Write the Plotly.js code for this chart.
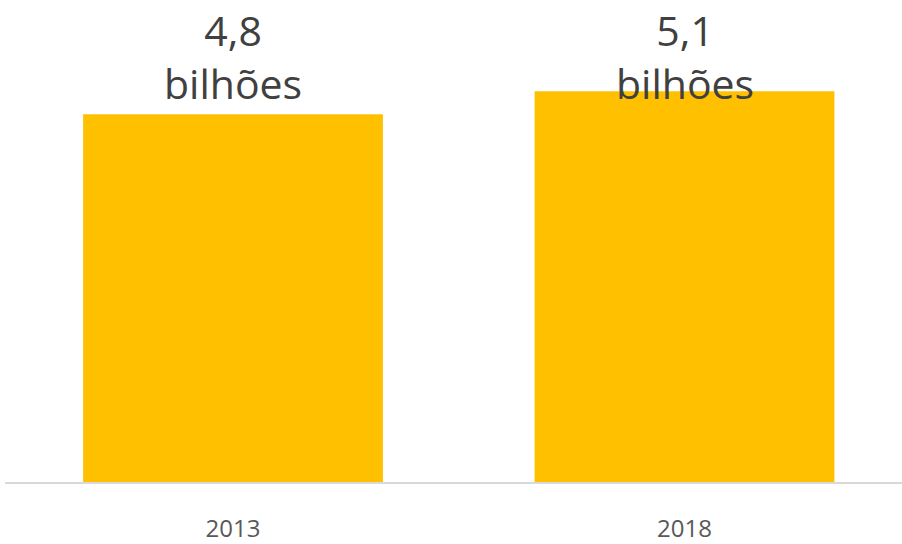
<!DOCTYPE html>
<html>
<head>
<meta charset="utf-8">
<script src="https://cdn.plot.ly/plotly-3.0.1.min.js"></script>
<style>html,body{margin:0;padding:0;background:#fff;}#chart{width:902px;height:544px;}</style>
</head>
<body>
<div id="chart"></div>
<script>
const categories = ["2013", "2018"];
const values = [4.8, 5.1];
const unitLabel = "bilhões";

const barColor = "#FFC000";
const labels = values.map(v => v.toFixed(1).replace(".", ",") + "<br>" + unitLabel);

const trace = {
  type: "bar",
  x: categories,
  y: values,
  marker: {color: barColor},
  width: 0.664,
  hoverinfo: "none"
};

const annotations = categories.map((c, i) => ({
  x: i,
  xref: "x",
  y: 1,
  yref: "paper",
  yanchor: "top",
  xanchor: "center",
  yshift: 0,
  text: labels[i],
  showarrow: false,
  font: {family: "Open Sans, sans-serif", size: 41, color: "#404040"}
}));

const layout = {
  width: 902,
  height: 544,
  margin: {l: 5, r: 0, t: 0, b: 62},
  paper_bgcolor: "#ffffff",
  plot_bgcolor: "rgba(0,0,0,0)",
  showlegend: false,
  xaxis: {
    type: "category",
    range: [-0.505, 1.4817],
    showline: true,
    linecolor: "#d9d9d9",
    linewidth: 2,
    ticks: "",
    ticklabelstandoff: 24,
    tickfont: {family: "Open Sans, sans-serif", size: 24, color: "#595959"},
    fixedrange: true
  },
  yaxis: {
    range: [0, 6.29],
    visible: false,
    showgrid: false,
    zeroline: false,
    fixedrange: true
  },
  annotations: annotations
};

Plotly.newPlot("chart", [trace], layout, {displayModeBar: false, staticPlot: true});
</script>
</body>
</html>
